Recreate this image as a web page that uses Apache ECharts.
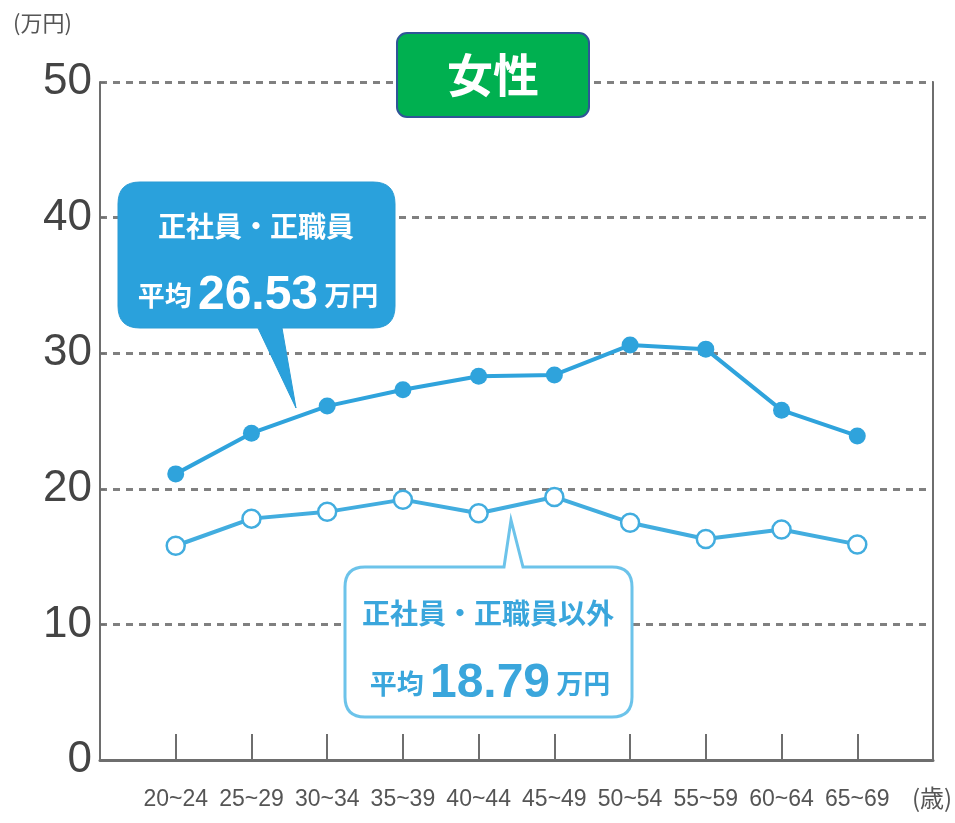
<!DOCTYPE html>
<html>
<head>
<meta charset="utf-8">
<script src="https://cdn.jsdelivr.net/npm/echarts@6/dist/echarts.min.js"></script>
<style>
    html, body {margin: 0; padding: 0; background: #fff;}
    #chart_women {width: 955px; height: 823px;}
</style>
</head>
<body>
<div id="chart_women"></div>
<script>
// 年齢階級
var ageGroups = ['20~24', '25~29', '30~34', '35~39', '40~44', '45~49', '50~54', '55~59', '60~64', '65~69'];
// 正社員・正職員 (万円)
var regularPay = [21.1, 24.1, 26.1, 27.3, 28.3, 28.4, 30.6, 30.3, 25.8, 23.9];
// 正社員・正職員以外 (万円)
var otherPay = [15.8, 17.8, 18.3, 19.2, 18.2, 19.4, 17.5, 16.3, 17.0, 15.9];
var yTicks = [0, 10, 20, 30, 40, 50];

// 吹き出しの形
echarts.graphic.registerShape('calloutRegular', echarts.graphic.extendPath(
    'M140 182 H373 Q395 182 395 204 V306 Q395 328 373 328 H282 L296 408 L258 328 H140 Q118 328 118 306 V204 Q118 182 140 182 Z'
));
echarts.graphic.registerShape('calloutOther', echarts.graphic.extendPath(
    'M365 567 H504 L511 520 L523 567 H612 Q632 567 632 587 V697 Q632 717 612 717 H365 Q345 717 345 697 V587 Q345 567 365 567 Z'
));

var myChart = echarts.init(document.getElementById('chart_women'));

var tickPos = ageGroups.map(function (v, i) { return i + 1; });

function toPoints(arr) {
    return arr.map(function (v, i) { return [i + 1, v]; });
}

var blue = '#2fa3dc';
var narrow = '"Liberation Sans Narrow", "Liberation Sans", sans-serif';
var jp = '"Noto Sans CJK JP", sans-serif';

var option = {
    animation: false,
    grid: {left: 100, right: 22, top: 82, bottom: 63},
    xAxis: {
        type: 'value',
        min: 0,
        max: ageGroups.length + 1,
        interval: 1,
        splitLine: {show: false},
        axisLine: {show: true, lineStyle: {color: '#6e6e6e', width: 3}},
        axisTick: {
            show: true, inside: true, length: 26,
            customValues: tickPos,
            lineStyle: {color: '#6e6e6e', width: 2}
        },
        axisLabel: {
            customValues: tickPos,
            margin: 28,
            fontFamily: narrow,
            fontSize: 23,
            color: '#555',
            formatter: function (v) { return ageGroups[v - 1] || ''; }
        }
    },
    yAxis: [
        {
            type: 'value',
            min: yTicks[0],
            max: yTicks[yTicks.length - 1],
            interval: 10,
            axisLine: {show: true, lineStyle: {color: '#6e6e6e', width: 2}},
            axisTick: {show: true, inside: true, length: 5, lineStyle: {color: '#6e6e6e'}},
            axisLabel: {
                margin: 8,
                fontFamily: narrow,
                fontSize: 44,
                color: '#444'
            },
            splitLine: {
                show: true,
                lineStyle: {color: '#808080', width: 3, type: [7, 6]}
            }
        },
        {
            type: 'value',
            position: 'right',
            min: 0,
            max: 50,
            interval: 10,
            axisLine: {show: true, lineStyle: {color: '#6e6e6e', width: 2}},
            axisTick: {show: false},
            axisLabel: {show: false},
            splitLine: {show: false}
        }
    ],
    series: [
        {
            name: '正社員・正職員',
            type: 'line',
            data: toPoints(regularPay),
            symbol: 'circle',
            symbolSize: 17,
            lineStyle: {color: blue, width: 4},
            itemStyle: {color: blue},
            z: 3
        },
        {
            name: '正社員・正職員以外',
            type: 'line',
            data: toPoints(otherPay),
            symbol: 'circle',
            symbolSize: 18,
            lineStyle: {color: '#42addf', width: 4},
            itemStyle: {color: '#fff', borderColor: '#42addf', borderWidth: 2.5},
            z: 3
        }
    ],
    graphic: [
        // 単位
        {type: 'text', x: 13, y: 12, style: {text: '(万円)', fontFamily: jp, fontSize: 22, fill: '#555'}},
        {type: 'text', x: 912, y: 786, style: {text: '(歳)', fontFamily: jp, fontSize: 24, fill: '#555'}},
        // タイトル
        {
            type: 'rect', z: 10,
            shape: {x: 397, y: 33, width: 192, height: 84, r: 10},
            style: {fill: '#00b050', stroke: '#2f5597', lineWidth: 2}
        },
        {
            type: 'text', z: 11, x: 493, y: 75,
            style: {text: '女性', fontFamily: jp, fontSize: 46, fontWeight: 'bold', fill: '#fff', align: 'center', verticalAlign: 'middle'}
        },
        // 吹き出し 正社員
        {
            type: 'calloutRegular', z: 10,
            style: {fill: '#2aa1dc', stroke: '#2a9bd4', lineWidth: 1}
        },
        {
            type: 'text', z: 11, x: 256, y: 226,
            style: {text: '正社員・正職員', fontFamily: jp, fontSize: 28, fontWeight: 'bold', fill: '#fff', align: 'center', verticalAlign: 'middle'}
        },
        {
            type: 'text', z: 11, x: 258, y: 296,
            style: {
                text: '{s|平均 }{b|26.53}{s| 万円}',
                align: 'center', verticalAlign: 'middle',
                rich: {
                    s: {fontFamily: jp, fontSize: 27, fontWeight: 'bold', fill: '#fff'},
                    b: {fontFamily: '"Liberation Sans", sans-serif', fontSize: 48, fontWeight: 'bold', fill: '#fff'}
                }
            }
        },
        // 吹き出し 正社員以外
        {
            type: 'calloutOther', z: 10,
            style: {fill: '#fff', stroke: '#6cc3ea', lineWidth: 3}
        },
        {
            type: 'text', z: 11, x: 488, y: 613,
            style: {text: '正社員・正職員以外', fontFamily: jp, fontSize: 28, fontWeight: 'bold', fill: '#3aa6dc', align: 'center', verticalAlign: 'middle'}
        },
        {
            type: 'text', z: 11, x: 490, y: 684,
            style: {
                text: '{s|平均 }{b|18.79}{s| 万円}',
                align: 'center', verticalAlign: 'middle',
                rich: {
                    s: {fontFamily: jp, fontSize: 27, fontWeight: 'bold', fill: '#3aa6dc'},
                    b: {fontFamily: '"Liberation Sans", sans-serif', fontSize: 48, fontWeight: 'bold', fill: '#3aa6dc'}
                }
            }
        }
    ]
};

myChart.setOption(option);
</script>
</body>
</html>
